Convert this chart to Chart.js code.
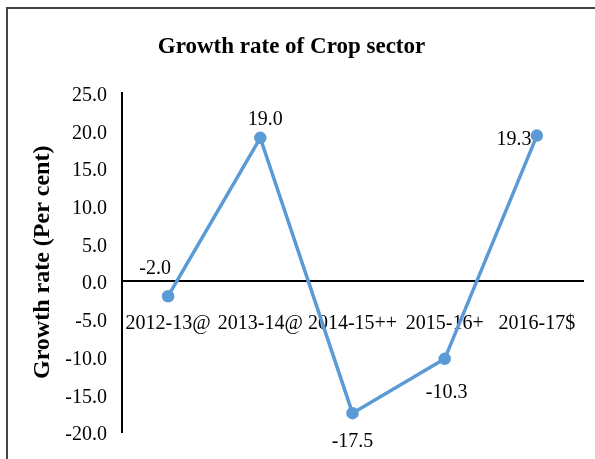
<!DOCTYPE html>
<html>
<head>
<meta charset="utf-8">
<script src="https://cdn.jsdelivr.net/npm/chart.js@4/dist/chart.umd.min.js"></script>
<style>
  body { margin: 0; background: #fff; }
  #wrap { position: relative; width: 595px; height: 459px; overflow: hidden; }
  #frame { position: absolute; left: 6px; top: 7px; width: 620px; height: 520px;
           border-top: 2px solid #444; border-left: 2px solid #444; pointer-events: none; }
</style>
</head>
<body>
<div id="wrap">
  <canvas id="myChart" width="595" height="459"></canvas>
  <div id="frame"></div>
</div>
<script>
// ---- data
var years = ["2012-13@", "2013-14@", "2014-15++", "2015-16+", "2016-17$"];
var growth = [-2.0, 19.0, -17.5, -10.3, 19.3];
var yMin = -20, yMax = 25, yStep = 5;

var serif = "'Liberation Serif', 'Times New Roman', serif";

// where each value label sits relative to its point (dx, dy)
var labelOffsets = [[-13, -27], [5, -18], [0, 29], [2, 34], [-23, 4]];

var valueLabels = {
    id: 'valueLabels',
    afterDatasetsDraw: function (chart) {
        var ctx = chart.ctx;
        var meta = chart.getDatasetMeta(0);
        ctx.save();
        ctx.font = "20px " + serif;
        ctx.fillStyle = "#000";
        ctx.textAlign = "center";
        ctx.textBaseline = "middle";
        meta.data.forEach(function (pt, i) {
            var off = labelOffsets[i];
            ctx.fillText(growth[i].toFixed(1), pt.x + off[0], pt.y + off[1]);
        });
        ctx.restore();
    }
};

var ctx = document.getElementById("myChart");
var myChart = new Chart(ctx, {
    type: "line",
    data: {
        labels: years,
        datasets: [{
            data: growth,
            borderColor: "#5B9BD5",
            backgroundColor: "#5B9BD5",
            borderWidth: 3.5,
            pointRadius: 4.5,
            pointHoverRadius: 4.5,
            tension: 0
        }]
    },
    options: {
        responsive: false,
        animation: false,
        events: [],
        layout: { padding: { left: 0, right: 12, top: 0, bottom: 23 } },
        plugins: {
            legend: { display: false },
            tooltip: { enabled: false },
            title: {
                display: true,
                text: "Growth rate of Crop sector",
                color: "#000",
                font: { family: serif, size: 23, weight: "bold" },
                padding: { top: 33, bottom: 32 }
            }
        },
        scales: {
            x: {
                type: "category",
                offset: true,
                position: { y: 0 },
                grid: { display: false, drawTicks: false },
                border: { color: "#000", width: 2 },
                ticks: {
                    color: "#000",
                    font: { family: serif, size: 20 },
                    padding: 31,
                    maxRotation: 0,
                    autoSkip: false
                },
                afterFit: function (scale) {
                    scale.height = 0;
                    scale.paddingLeft = 0;
                    scale.paddingRight = 0;
                }
            },
            y: {
                min: yMin,
                max: yMax,
                grid: { display: false, drawTicks: false },
                border: { color: "#000", width: 2 },
                ticks: {
                    stepSize: yStep,
                    color: "#000",
                    font: { family: serif, size: 20 },
                    padding: 15,
                    labelOffset: 3,
                    callback: function (v) { return Number(v).toFixed(1); }
                },
                title: {
                    display: true,
                    text: "Growth rate (Per cent)",
                    color: "#000",
                    font: { family: serif, size: 24, weight: "bold" },
                    padding: { top: 28, bottom: 0 }
                },
                afterFit: function (scale) { scale.width = 122; }
            }
        }
    },
    plugins: [valueLabels]
});
</script>
</body>
</html>
